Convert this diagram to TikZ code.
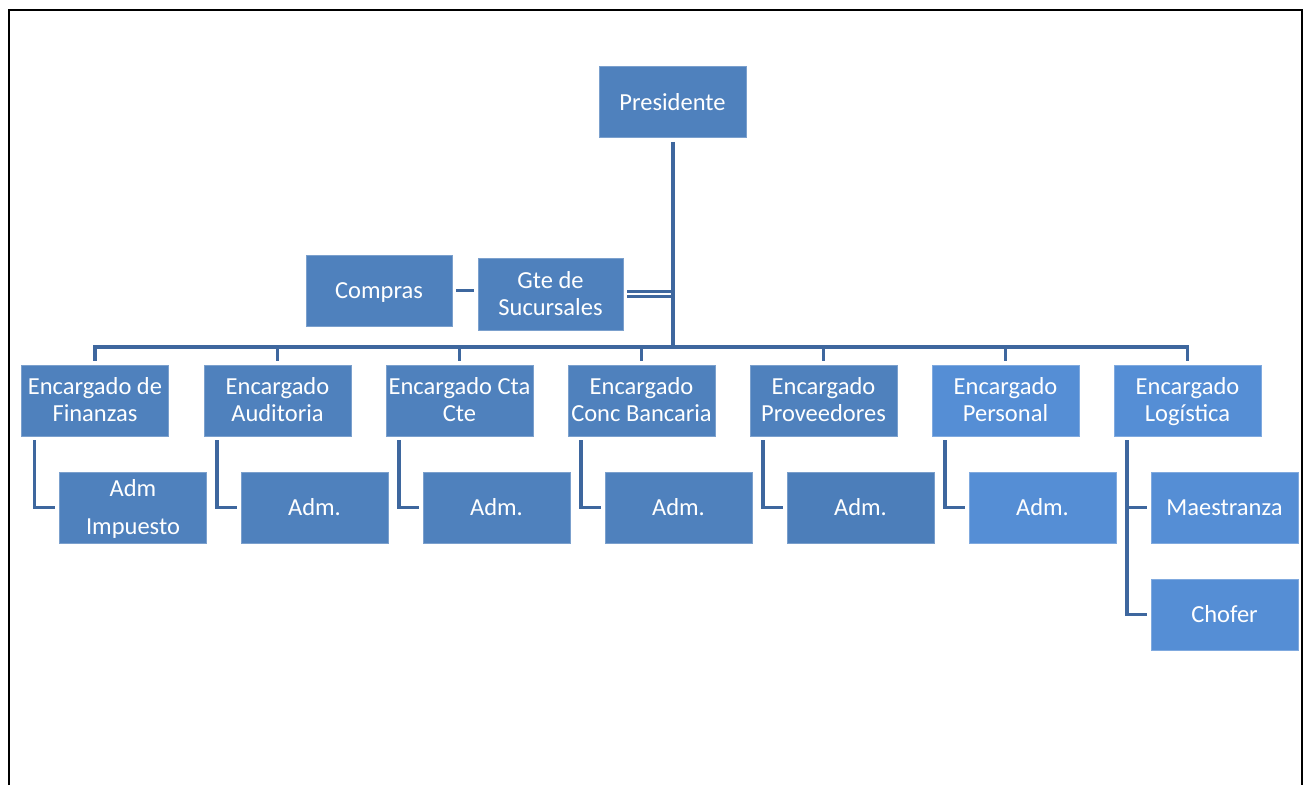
\documentclass[tikz,border=0pt]{standalone}
\usepackage{fontspec}
\setmainfont{Carlito}
\usetikzlibrary{calc}
\definecolor{boxblue}{RGB}{79,129,189}
\definecolor{boxlight}{RGB}{85,142,213}
\definecolor{boxgray}{RGB}{76,126,186}
\definecolor{linkblue}{RGB}{62,103,158}
% fixed-height line strut so every text line sits at the same place
\newcommand\lstrut{\rule[-5.6pt]{0pt}{27pt}}
\tikzset{
  orgbox/.style={rectangle, fill=boxblue, draw=boxblue!75!white, line width=0.8pt,
    text=white, minimum width=147pt, minimum height=71pt, inner sep=0pt,
    align=center, font=\fontsize{24.5}{27}\selectfont},
  lightbox/.style={orgbox, fill=boxlight, draw=boxlight!75!white},
  conn/.style={draw=linkblue, line width=3.6pt, line cap=butt},
}
\begin{document}
\begin{tikzpicture}[x=1pt, y=-1pt]
\useasboundingbox (0,0) rectangle (1306,785);
% page frame, open at the bottom
\draw[line width=2pt] (9,785) -- (9,10) -- (1302,10) -- (1302,785);

% top levels
\node[orgbox] (pres) at (672.5,102) {Presidente};
\node[orgbox, minimum width=145pt, minimum height=72pt] (gte) at (550.5,294) {\lstrut Gte de\\\lstrut Sucursales};
\node[orgbox, minimum width=146pt] (compras) at (379,290.5) {\lstrut Compras};

% section heads
\node[orgbox] (e1) at (95,400.5)   {\lstrut Encargado de\\\lstrut Finanzas};
\node[orgbox] (e2) at (277.5,400.5) {\lstrut Encargado\\\lstrut Auditoria};
\node[orgbox] (e3) at (459.5,400.5) {\lstrut Encargado Cta\\\lstrut Cte};
\node[orgbox] (e4) at (641.5,400.5) {\lstrut Encargado\\\lstrut Conc Bancaria};
\node[orgbox] (e5) at (823.5,400.5) {\lstrut Encargado\\\lstrut Proveedores};
\node[lightbox] (e6) at (1005.5,400.5) {\lstrut Encargado\\\lstrut Personal};
\node[lightbox] (e7) at (1187.5,400.5) {\lstrut Encargado\\\lstrut Logística};

% staff under each head
\node[orgbox, font=\fontsize{24.5}{38}\selectfont] (a1) at (133,507.5) {\lstrut Adm\\\lstrut Impuesto};
\node[orgbox] (a2) at (314.5,507.5) {Adm.};
\node[orgbox] (a3) at (496.5,507.5) {Adm.};
\node[orgbox] (a4) at (678.5,507.5) {Adm.};
\node[orgbox, fill=boxgray, draw=boxgray!75!white] (a5) at (860.5,507.5) {Adm.};
\node[lightbox] (a6) at (1042.5,507.5) {Adm.};
\node[lightbox] (a7) at (1224.5,507.5) {Maestranza};
\node[lightbox] (a8) at (1224.5,614.5) {Chofer};

% trunk and horizontal bar
\coordinate (bar) at (672,347);
\draw[conn, line width=4pt] ($(pres.south)+(0,4)$) -- (pres.south |- bar);
\draw[conn] ($(e1.north)+(0,-4)$) -- (e1.north |- bar) -- (e7.north |- bar) -- ($(e7.north)+(0,-4)$);
\foreach \n in {e2,e3,e4,e5,e6}
  \draw[conn] ($(\n.north)+(0,-4)$) -- (\n.north |- bar);

% side branch
\draw[conn, line width=2.8pt] ($(gte.east)+(4,-2.2)$) -- ($(pres.south |- gte.east)+(0,-2.2)$);
\draw[conn, line width=2.8pt] ($(gte.east)+(4,2.2)$) -- ($(pres.south |- gte.east)+(0,2.2)$);
\draw[conn] ($(compras.east)+(4,0)$) -- ($(gte.west |- compras.east)+(-4,0)$);

% links from heads to their staff
\foreach \h/\s in {e1/a1,e2/a2,e3/a3,e4/a4,e5/a5,e6/a6}
  \draw[conn] ($(\h.south west)+(13.5,4)$) |- ($(\s.west)+(-4,0)$);
\draw[conn] ($(e7.south west)+(13.5,4)$) |- ($(a8.west)+(-4,0)$);
\draw[conn] ($(e7.south west |- a7.west)+(13.5,0)$) -- ($(a7.west)+(-4,0)$);
\end{tikzpicture}
\end{document}
